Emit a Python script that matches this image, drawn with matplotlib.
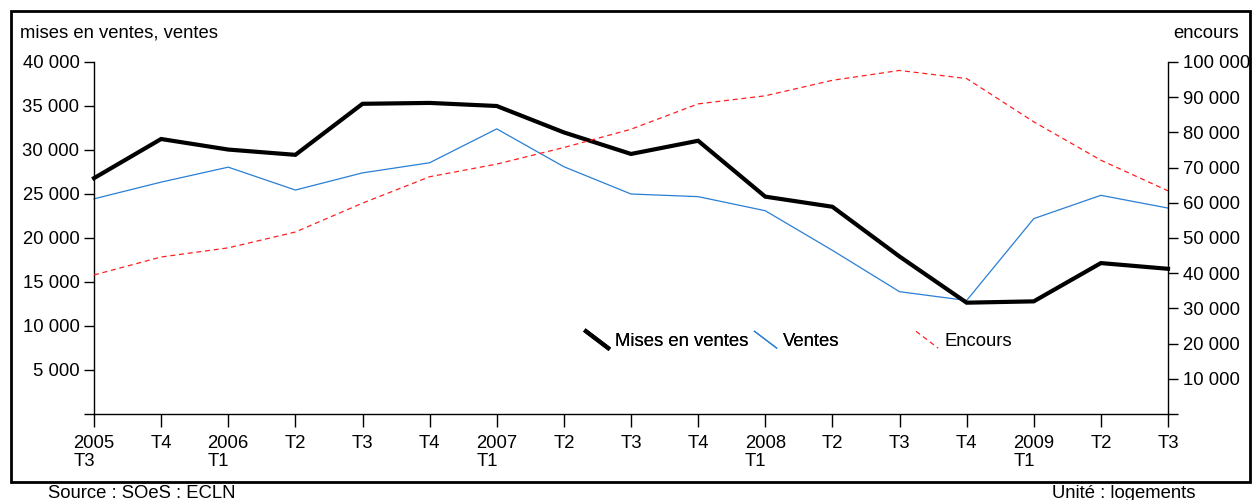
import matplotlib
matplotlib.use("Agg")
import matplotlib.pyplot as plt
from matplotlib.lines import Line2D
from matplotlib.legend_handler import HandlerBase
from matplotlib.patches import Rectangle

# ---- data ----
quarters = ["2005\nT3", "T4", "2006\nT1", "T2", "T3", "T4", "2007\nT1", "T2", "T3",
            "T4", "2008\nT1", "T2", "T3", "T4", "2009\nT1", "T2", "T3"]
mises_en_ventes = [26800, 31250, 30050, 29450, 35250, 35350, 35000, 32000, 29550,
                   31050, 24700, 23550, 17900, 12650, 12800, 17150, 16500]
ventes = [24450, 26350, 28050, 25450, 27400, 28550, 32400, 28100, 25000,
          24700, 23100, 18600, 13900, 12900, 22200, 24850, 23400]
encours = [39500, 44600, 47200, 51700, 59900, 67400, 71000, 75700, 80900,
           88100, 90400, 94800, 97600, 95300, 83000, 72100, 63400]
left_ticks = [0, 5000, 10000, 15000, 20000, 25000, 30000, 35000, 40000]
right_ticks = [0, 10000, 20000, 30000, 40000, 50000, 60000, 70000, 80000, 90000, 100000]

plt.rcParams['font.family'] = ['Liberation Sans', 'DejaVu Sans']
FS = 13.3

def fmt(v):
    return "" if v == 0 else f"{v:,}".replace(",", " ")

fig = plt.figure(figsize=(12.56, 5.0), dpi=100)
W, H = 1256, 500
ax = fig.add_axes([94 / W, 1 - 414 / H, (1168 - 94) / W, (414 - 62) / H])
ax2 = ax.twinx()

x = list(range(len(quarters)))
l1, = ax.plot(x, mises_en_ventes, color="black", lw=3.0, solid_joinstyle="miter",
              clip_on=False, zorder=3)
l2, = ax.plot(x, ventes, color="#2a7fd4", lw=0.9, clip_on=False, zorder=2)
l3, = ax2.plot(x, encours, color="#ff2020", lw=0.9, ls=(0, (4, 3)), clip_on=False)

ax.set_xlim(0, len(quarters) - 1)
ax.set_ylim(0, 40000)
ax2.set_ylim(0, 100000)

ax.set_xticks(x)
ax.set_xticklabels(quarters, fontsize=FS)
for lab in ax.get_xticklabels():
    lab.set_multialignment("left")
    lab.set_linespacing(1.1)
ax.set_yticks(left_ticks)
ax.set_yticklabels([fmt(v) for v in left_ticks], fontsize=FS)
ax2.set_yticks(right_ticks)
ax2.set_yticklabels([fmt(v) for v in right_ticks], fontsize=FS)

for a in (ax, ax2):
    a.spines["top"].set_visible(False)
    for s in a.spines.values():
        s.set_linewidth(1.0)
ax.spines["right"].set_visible(False)
ax2.spines["left"].set_visible(False)
ax2.spines["bottom"].set_visible(False)
ax.tick_params(axis="x", direction="out", length=9, width=1.0, pad=6)
ax.tick_params(axis="y", direction="out", length=7.5, width=1.0, pad=3)
ax2.tick_params(axis="y", direction="out", length=7.5, width=1.0, pad=3)

# axis titles
fig.text(20 / W, 1 - 33 / H, "mises en ventes, ventes", fontsize=FS, va="center", ha="left")
fig.text(1173 / W, 1 - 33 / H, "encours", fontsize=FS, va="center", ha="left")

# footer
fig.text(48 / W, 1 - 493 / H, "Source : SOeS : ECLN", fontsize=FS, va="center", ha="left")
fig.text(1196 / W, 1 - 493 / H, "Unité : logements", fontsize=FS, va="center", ha="right")

# outer frame
fig.patches.append(Rectangle((11 / W, 1 - 482 / H), (1250 - 11) / W, (482 - 11) / H,
                             transform=fig.transFigure, fill=False, lw=2.0,
                             edgecolor="black", zorder=0))


class DiagHandler(HandlerBase):
    def create_artists(self, legend, orig_handle, xdescent, ydescent, width, height,
                       fontsize, trans):
        y0 = -ydescent + height * 1.1
        y1 = -ydescent - height * 0.2
        ln = Line2D([-xdescent, -xdescent + width], [y0, y1])
        ln.update_from(orig_handle)
        ln.set_transform(trans)
        return [ln]


hm = {l1: DiagHandler(), l2: DiagHandler(), l3: DiagHandler()}
leg1 = ax.legend([l1, l2], ["Mises en ventes", "Ventes"], handler_map=hm, ncol=2,
                 frameon=False, fontsize=FS, handlelength=1.2, handletextpad=0.35,
                 columnspacing=0.35, loc="center left",
                 bbox_to_anchor=(586 / W, 1 - 341 / H), bbox_transform=fig.transFigure,
                 borderaxespad=0, borderpad=0)
ax.add_artist(leg1)
leg2 = ax2.legend([l3], ["Encours"], handler_map=hm, frameon=False, fontsize=FS,
                  handlelength=1.2, handletextpad=0.35, loc="center left",
                  bbox_to_anchor=(916 / W, 1 - 341 / H), bbox_transform=fig.transFigure,
                  borderaxespad=0, borderpad=0)

fig.savefig("out.png", dpi=100)
